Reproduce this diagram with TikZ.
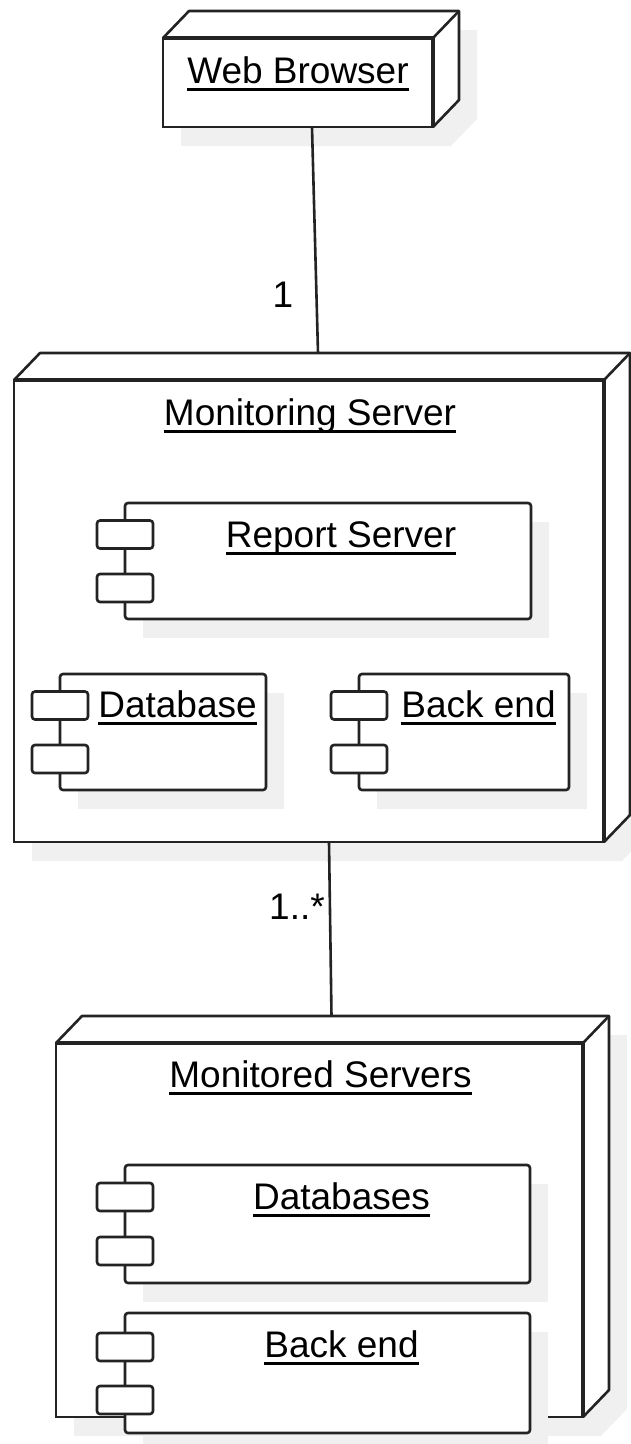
\documentclass[tikz,border=0pt]{standalone}
\usepackage{fontspec}
\setmainfont{Liberation Sans}
\usetikzlibrary{calc}

\definecolor{ink}{RGB}{35,35,35}
\definecolor{shadowgray}{RGB}{240,240,240}

\pgfdeclarelayer{shadows}
\pgfdeclarelayer{cubes}
\pgfdeclarelayer{cshadows}
\pgfsetlayers{shadows,cubes,cshadows,main}

\newcommand{\labelfont}{\fontsize{37}{41}\selectfont}
% underlined title text
\newcommand{\ulabel}[1]{\setbox0=\hbox{#1}\rlap{\rule[-8pt]{\wd0}{2.6pt}}\box0}

\tikzset{
  edge/.style={draw=ink, line width=2.6pt, line join=round},
  cubefront/.style={rectangle, draw=ink, line width=2.6pt, fill=white, inner sep=0pt, outer sep=0pt},
  comp/.style={rectangle, draw=ink, line width=2.6pt, fill=white, rounded corners=3pt, inner sep=0pt, outer sep=0pt},
  port/.style={rectangle, draw=ink, line width=2.6pt, fill=white, rounded corners=3pt,
    minimum width=56pt, minimum height=28pt, inner sep=0pt, outer sep=0pt},
  shade/.style={fill=shadowgray, draw=none},
  title/.style={font=\labelfont, text=black, inner sep=0pt, anchor=base},
}

% depth faces, outline and shadow of a 3D node whose front face is node #1
\newcommand{\cubefaces}[1]{%
  \begin{pgfonlayer}{shadows}
    \fill[shade] ([shift={(18,19)}]#1.north west) -- ([shift={(44,-8)}]#1.north west)
      -- ([shift={(44,-8)}]#1.north east) -- ([shift={(44,-8)}]#1.south east)
      -- ([shift={(18,19)}]#1.south east) -- ([shift={(18,19)}]#1.south west) -- cycle;
  \end{pgfonlayer}
  \begin{pgfonlayer}{cubes}
    \fill[white] (#1.north west) -- ([shift={(26,-27)}]#1.north west)
      -- ([shift={(26,-27)}]#1.north east) -- ([shift={(26,-27)}]#1.south east)
      -- (#1.south east) -- (#1.north east) -- cycle;
    \draw[edge] (#1.north west) -- ([shift={(26,-27)}]#1.north west)
      -- ([shift={(26,-27)}]#1.north east) -- ([shift={(26,-27)}]#1.south east)
      -- (#1.south east);
    \draw[edge] (#1.north east) -- ([shift={(26,-27)}]#1.north east);
    \draw[edge, line width=4pt] (#1.north west) -- (#1.north east) -- (#1.south east);
  \end{pgfonlayer}}

% shadow of a component box
\newcommand{\compshadow}[1]{%
  \begin{pgfonlayer}{cshadows}
    \fill[shade] ([shift={(18,19)}]#1.north west) rectangle ([shift={(18,19)}]#1.south east);
  \end{pgfonlayer}}

\begin{document}
\begin{tikzpicture}[x=1pt, y=-1pt]
\useasboundingbox (0,0) rectangle (631,1444);

% ---- Web Browser ----
\begin{pgfonlayer}{cubes}
  \node[cubefront, minimum width=270pt, minimum height=89pt] (wb) at (298,82.5) {};
\end{pgfonlayer}
\cubefaces{wb}
\node[title] (wbT) at (298,83) {\ulabel{Web Browser}};

% ---- Monitoring Server ----
\begin{pgfonlayer}{cubes}
  \node[cubefront, minimum width=590pt, minimum height=462pt] (ms) at (309,611) {};
\end{pgfonlayer}
\cubefaces{ms}
\node[title] (msT) at (310,425) {\ulabel{Monitoring Server}};

\node[comp, minimum width=406pt, minimum height=116pt] (rs) at (328,561) {};
\compshadow{rs}
\node[port] (rs1) at (125,534.5) {};
\node[port] (rs2) at (125,588) {};
\node[title] (rsT) at (341,547) {\ulabel{Report Server}};

\node[comp, minimum width=206pt, minimum height=116pt] (db) at (163,732) {};
\compshadow{db}
\node[port] (db1) at (60,705.5) {};
\node[port] (db2) at (60,759) {};
\node[title] (dbT) at (177.5,717) {\ulabel{Database}};

\node[comp, minimum width=210pt, minimum height=116pt] (be) at (464,732) {};
\compshadow{be}
\node[port] (be1) at (359,705.5) {};
\node[port] (be2) at (359,759) {};
\node[title] (beT) at (478.5,717) {\ulabel{Back end}};

% ---- Monitored Servers ----
\begin{pgfonlayer}{cubes}
  \node[cubefront, minimum width=527pt, minimum height=374pt] (mon) at (319.5,1230) {};
\end{pgfonlayer}
\cubefaces{mon}
\node[title] (monT) at (320.5,1087) {\ulabel{Monitored Servers}};

\node[comp, minimum width=405pt, minimum height=118pt] (dbs) at (327.5,1224) {};
\compshadow{dbs}
\node[port] (dbs1) at (125,1197) {};
\node[port] (dbs2) at (125,1251) {};
\node[title] (dbsT) at (341.5,1209) {\ulabel{Databases}};

\node[comp, minimum width=405pt, minimum height=120pt] (mbe) at (327.5,1373) {};
\compshadow{mbe}
\node[port] (mbe1) at (125,1347) {};
\node[port] (mbe2) at (125,1400) {};
\node[title] (mbeT) at (341.5,1357) {\ulabel{Back end}};

% ---- connectors ----
\draw[edge] ([shift={(14,0)}]wb.south) -- ([shift={(9,-27)}]ms.north);
\node[title] (m1) at (283,307) {1};
\draw[edge] ([shift={(20,0)}]ms.south) -- ([shift={(12,-27)}]mon.north);
\node[title] (m2) at (297,919) {1..*};
\end{tikzpicture}
\end{document}
